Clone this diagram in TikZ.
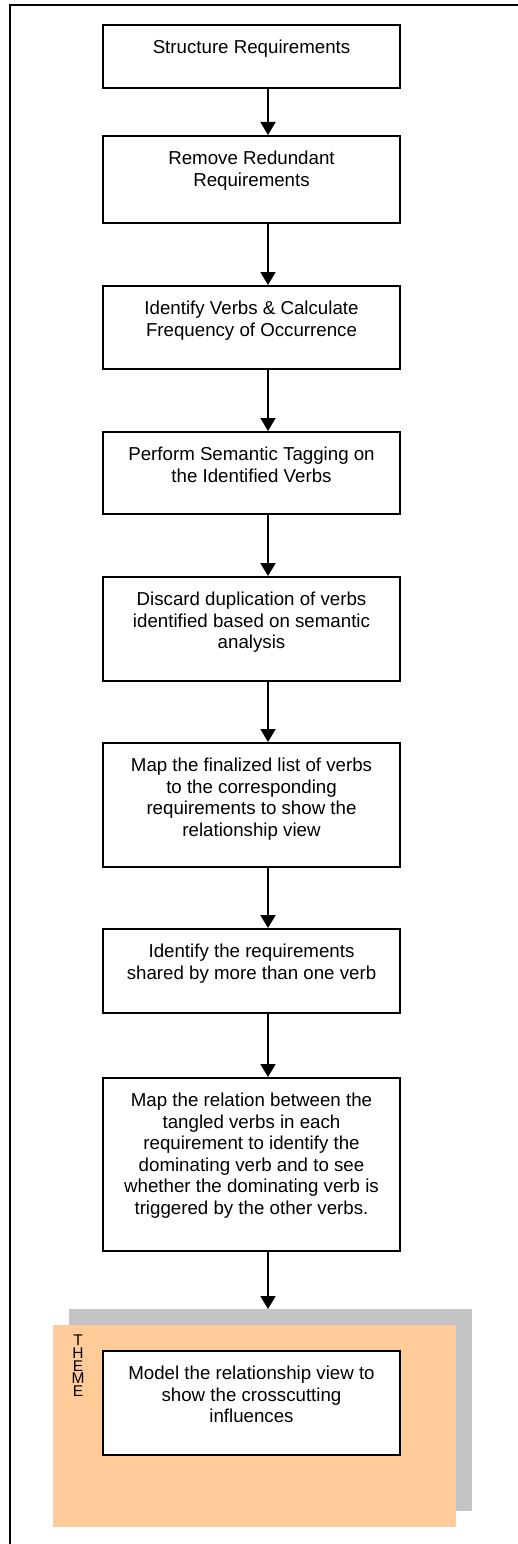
\documentclass[tikz,border=0pt]{standalone}
\usepackage{fontspec}
\setmainfont{Liberation Sans}
\usepackage{tikz}
\usetikzlibrary{arrows.meta}

\definecolor{shadowgray}{RGB}{196,196,196}
\definecolor{themeorange}{RGB}{255,204,153}

% text of a step, set from the top of its box
\newcommand{\steptext}[2]{\parbox[t][#1][t]{297pt}{\centering\vspace*{14pt}\strut #2}}

\tikzset{
    stepbox/.style={draw, line width=1.8pt, fill=white, inner sep=0pt, anchor=north,
        font=\fontsize{18.7}{21.5}\selectfont},
    flow/.style={line width=1.8pt, -{Triangle[length=13pt,width=15pt]}},
}

\begin{document}
\begin{tikzpicture}[x=1pt, y=-1pt]
    \useasboundingbox (0,0) rectangle (518,1544);

    % Frame
    \draw[line width=2pt] (10,1560) -- (10,5) -- (530,5);

    \coordinate (spine) at (268,0);

    % Steps
    \node[stepbox] (s1) at (251.5,24) {\steptext{63pt}{Structure Requirements}};
    \node[stepbox] (s2) at (251.5,135) {\steptext{87pt}{Remove Redundant\\Requirements}};
    \node[stepbox] (s3) at (251.5,285) {\steptext{83pt}{Identify Verbs \& Calculate\\Frequency of Occurrence}};
    \node[stepbox] (s4) at (251.5,431) {\steptext{82pt}{Perform Semantic Tagging on\\the Identified Verbs}};
    \node[stepbox] (s5) at (251.5,576) {\steptext{104pt}{Discard duplication of verbs\\identified based on semantic\\analysis}};
    \node[stepbox] (s6) at (251.5,742) {\steptext{124pt}{Map the finalized list of verbs\\to the corresponding\\requirements to show the\\relationship view}};
    \node[stepbox] (s7) at (251.5,928) {\steptext{84pt}{Identify the requirements\\shared by more than one verb}};
    \node[stepbox] (s8) at (251.5,1077) {\steptext{173pt}{Map the relation between the\\tangled verbs in each\\requirement to identify the\\dominating verb and to see\\whether the dominating verb is\\triggered by the other verbs.}};

    % Theme
    \node[fill=shadowgray, inner sep=0pt, minimum width=403pt, minimum height=202pt, anchor=north west] (shadow) at (69,1309) {};
    \node[fill=themeorange, inner sep=0pt, minimum width=403pt, minimum height=202pt, anchor=north west] (theme) at (53,1325) {};
    \node[anchor=north, inner sep=0pt, align=center, font=\fontsize{15.5}{12.7}\selectfont] (themelabel) at (78,1335) {T\\H\\E\\M\\E};
    \node[stepbox] (s9) at (251.5,1350) {\steptext{104pt}{Model the relationship view to\\show the crosscutting\\influences}};

    % Arrows
    \draw[flow] (s1.south -| spine) -- (s2.north -| spine);
    \draw[flow] (s2.south -| spine) -- (s3.north -| spine);
    \draw[flow] (s3.south -| spine) -- (s4.north -| spine);
    \draw[flow] (s4.south -| spine) -- (s5.north -| spine);
    \draw[flow] (s5.south -| spine) -- (s6.north -| spine);
    \draw[flow] (s6.south -| spine) -- (s7.north -| spine);
    \draw[flow] (s7.south -| spine) -- (s8.north -| spine);
    \draw[flow] (s8.south -| spine) -- (shadow.north -| spine);
\end{tikzpicture}
\end{document}
